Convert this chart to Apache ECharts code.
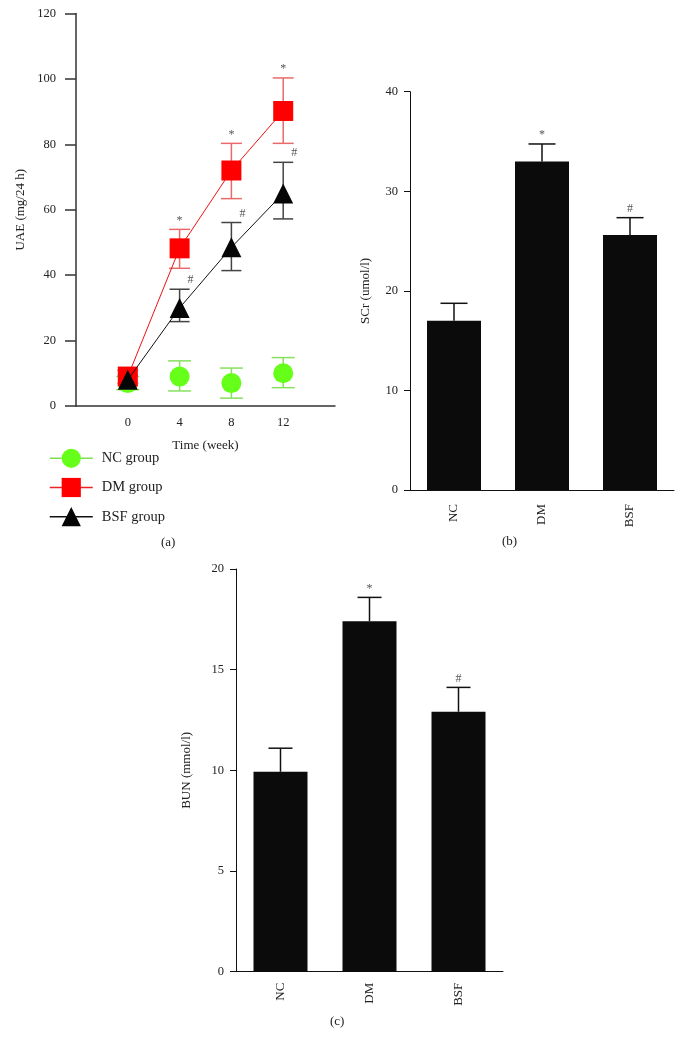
<!DOCTYPE html>
<html><head><meta charset="utf-8">
<script src="https://cdn.jsdelivr.net/npm/echarts@6/dist/echarts.min.js"></script>
<style>html,body{margin:0;padding:0;background:#fff}#c{width:683px;height:1050px}</style>
</head><body><div id="c"></div>
<script>
// ---- Panel (a): UAE over time ----
const weeks = [0, 4, 8, 12];
const ncMean = [7, 9, 7, 10];
const ncLow = [5, 4.6, 2.4, 5.6];
const ncHigh = [9, 13.8, 11.6, 14.8];
const dmMean = [9, 48.2, 72, 90.2];
const dmLow = [7, 42.1, 63.4, 80.3];
const dmHigh = [11, 54, 80.3, 100.3];
const bsfMean = [8, 30, 48.5, 65];
const bsfLow = [6.5, 25.8, 41.4, 57.2];
const bsfHigh = [9.5, 35.7, 56.1, 74.5];
const dmSig = ['', '*', '*', '*'];
const bsfSig = ['', '#', '#', '#'];
const weekLabels = ['0', '4', '8', '12'];
// ---- Panels (b),(c) ----
const groups = ['NC', 'DM', 'BSF'];
const scrMean = [17, 33, 25.6];
const scrErr = [1.75, 1.75, 1.75];
const bunMean = [9.93, 17.41, 12.91];
const bunErr = [1.17, 1.18, 1.21];
const barSig = ['', '*', '#'];

const FONT = '"Liberation Serif", "DejaVu Serif", serif';
const AX = '#333';
const TXT = '#222';

function lineErr(color, capW, sig, sigDx) {
  return function (params, api) {
    const i = params.dataIndex;
    const x = api.value(0);
    const t = api.coord([x, api.value(2)]);
    const b = api.coord([x, api.value(1)]);
    const ls = { stroke: color, lineWidth: 1.5 };
    const ch = [
      { type: 'line', shape: { x1: t[0], y1: t[1], x2: b[0], y2: b[1] }, style: ls },
      { type: 'line', shape: { x1: t[0] - capW / 2, y1: t[1], x2: t[0] + capW / 2, y2: t[1] }, style: ls },
      { type: 'line', shape: { x1: b[0] - capW / 2, y1: b[1], x2: b[0] + capW / 2, y2: b[1] }, style: ls }
    ];
    if (sig && sig[i]) {
      ch.push({ type: 'text', style: { text: sig[i], x: t[0] + sigDx, y: t[1] - 3, align: 'center', verticalAlign: 'bottom', font: '12px ' + FONT, fill: '#555' } });
    }
    return { type: 'group', children: ch };
  };
}
function barErr(capW) {
  return function (params, api) {
    const i = params.dataIndex;
    const x = api.value(0);
    const t = api.coord([x, api.value(2)]);
    const b = api.coord([x, api.value(1)]);
    const ls = { stroke: '#111', lineWidth: 1.5 };
    const ch = [
      { type: 'line', shape: { x1: t[0], y1: t[1], x2: b[0], y2: b[1] }, style: ls },
      { type: 'line', shape: { x1: t[0] - capW / 2, y1: t[1], x2: t[0] + capW / 2, y2: t[1] }, style: ls }
    ];
    if (barSig[i]) {
      ch.push({ type: 'text', style: { text: barSig[i], x: t[0], y: t[1] - 3, align: 'center', verticalAlign: 'bottom', font: '12px ' + FONT, fill: '#555' } });
    }
    return { type: 'group', children: ch };
  };
}

const tickLabel = { fontFamily: FONT, fontSize: 12.5, color: TXT };
const nameStyle = { fontFamily: FONT, fontSize: 13, color: TXT };

const option = {
  animation: false,
  backgroundColor: '#fff',
  grid: [
    { left: 76, top: 13.5, width: 259, height: 392.5 },
    { left: 410, top: 91.7, width: 264, height: 398.3 },
    { left: 236, top: 569, width: 267, height: 402.7 }
  ],
  legend: {
    orient: 'vertical', left: 49, top: 448.7, padding: 0, itemWidth: 43, itemHeight: 24, itemGap: 10,
    textStyle: { fontFamily: FONT, fontSize: 14.5, color: TXT, padding: [0, 0, 0, 4] },
    data: [
      { name: 'NC group', lineStyle: { color: '#7fe055', width: 1.5, opacity: 1 } },
      { name: 'DM group', lineStyle: { color: '#ee2222', width: 1.5 } },
      { name: 'BSF group', lineStyle: { color: '#111', width: 1.5 } }
    ]
  },
  xAxis: [
    {
      type: 'value', gridIndex: 0, min: -4, max: 16, interval: 4,
      axisLine: { onZero: false, lineStyle: { color: AX, width: 1.5 } }, axisTick: { show: false }, splitLine: { show: false },
      axisLabel: Object.assign({ margin: 10, formatter: v => weekLabels.indexOf(String(v)) >= 0 ? String(v) : '' }, tickLabel),
      name: 'Time (week)', nameLocation: 'middle', nameGap: 33, nameTextStyle: nameStyle
    },
    {
      type: 'category', gridIndex: 1, data: groups,
      axisLine: { lineStyle: { color: '#111', width: 1 } },
      axisTick: { alignWithLabel: true, length: 8, lineStyle: { color: '#111' } },
      axisLabel: Object.assign({ rotate: 90, margin: 14 }, tickLabel, { fontSize: 13 })
    },
    {
      type: 'category', gridIndex: 2, data: groups,
      axisLine: { lineStyle: { color: '#111', width: 1 } },
      axisTick: { alignWithLabel: true, length: 8, lineStyle: { color: '#111' } },
      axisLabel: Object.assign({ rotate: 90, margin: 11 }, tickLabel, { fontSize: 13 })
    }
  ],
  yAxis: [
    {
      type: 'value', gridIndex: 0, min: 0, max: 120, interval: 20,
      axisLine: { show: true, onZero: false, lineStyle: { color: AX, width: 1.5 } },
      axisTick: { show: true, length: 11, lineStyle: { color: AX, width: 1.5 } },
      splitLine: { show: false },
      axisLabel: Object.assign({ margin: 20 }, tickLabel),
      name: 'UAE (mg/24 h)', nameLocation: 'middle', nameGap: 49, nameRotate: 90, nameTextStyle: nameStyle
    },
    {
      type: 'value', gridIndex: 1, min: 0, max: 40, interval: 10,
      axisLine: { show: true, onZero: false, lineStyle: { color: '#111', width: 1 } },
      axisTick: { show: true, length: 6, lineStyle: { color: '#111' } },
      splitLine: { show: false },
      axisLabel: Object.assign({ margin: 12 }, tickLabel),
      name: 'SCr (umol/l)', nameLocation: 'middle', nameGap: 38, nameRotate: 90, nameTextStyle: nameStyle
    },
    {
      type: 'value', gridIndex: 2, min: 0, max: 20, interval: 5,
      axisLine: { show: true, onZero: false, lineStyle: { color: '#111', width: 1 } },
      axisTick: { show: true, length: 6, lineStyle: { color: '#111' } },
      splitLine: { show: false },
      axisLabel: Object.assign({ margin: 12 }, tickLabel),
      name: 'BUN (mmol/l)', nameLocation: 'middle', nameGap: 43, nameRotate: 90, nameTextStyle: nameStyle
    }
  ],
  series: [
    { name: 'NC err', type: 'custom', xAxisIndex: 0, yAxisIndex: 0, z: 1,
      data: weeks.map((w, i) => [w, ncLow[i], ncHigh[i]]), encode: { x: 0, y: [1, 2] },
      renderItem: lineErr('#86e05e', 23, null, 0) },
    { name: 'DM err', type: 'custom', xAxisIndex: 0, yAxisIndex: 0, z: 1,
      data: weeks.map((w, i) => [w, dmLow[i], dmHigh[i]]), encode: { x: 0, y: [1, 2] },
      renderItem: lineErr('#e86a6a', 21, dmSig, 0) },
    { name: 'BSF err', type: 'custom', xAxisIndex: 0, yAxisIndex: 0, z: 1,
      data: weeks.map((w, i) => [w, bsfLow[i], bsfHigh[i]]), encode: { x: 0, y: [1, 2] },
      renderItem: lineErr('#444', 20, bsfSig, 11) },
    { name: 'NC group', type: 'line', xAxisIndex: 0, yAxisIndex: 0, z: 3,
      data: weeks.map((w, i) => [w, ncMean[i]]),
      symbol: 'circle', symbolSize: 20, itemStyle: { color: '#66ff1a' },
      lineStyle: { color: '#7fe055', width: 1, opacity: 0 } },
    { name: 'DM group', type: 'line', xAxisIndex: 0, yAxisIndex: 0, z: 4,
      data: weeks.map((w, i) => [w, dmMean[i]]),
      symbol: 'rect', symbolSize: 20, itemStyle: { color: '#ff0000' },
      lineStyle: { color: '#ee1111', width: 1 } },
    { name: 'BSF group', type: 'line', xAxisIndex: 0, yAxisIndex: 0, z: 5,
      data: weeks.map((w, i) => [w, bsfMean[i]]),
      symbol: 'triangle', symbolSize: 20, itemStyle: { color: '#050505' },
      lineStyle: { color: '#111', width: 1 } },
    { name: 'SCr', type: 'bar', xAxisIndex: 1, yAxisIndex: 1, data: scrMean, barWidth: 54,
      itemStyle: { color: '#0b0b0b' } },
    { name: 'SCr err', type: 'custom', xAxisIndex: 1, yAxisIndex: 1, z: 3,
      data: groups.map((g, i) => [i, scrMean[i], scrMean[i] + scrErr[i]]), encode: { x: 0, y: [1, 2] },
      renderItem: barErr(27) },
    { name: 'BUN', type: 'bar', xAxisIndex: 2, yAxisIndex: 2, data: bunMean, barWidth: 54,
      itemStyle: { color: '#0b0b0b' } },
    { name: 'BUN err', type: 'custom', xAxisIndex: 2, yAxisIndex: 2, z: 3,
      data: groups.map((g, i) => [i, bunMean[i], bunMean[i] + bunErr[i]]), encode: { x: 0, y: [1, 2] },
      renderItem: barErr(24) }
  ],
  graphic: [
    { type: 'text', left: 161, top: 536, style: { text: '(a)', font: '13px ' + FONT, fill: TXT } },
    { type: 'text', left: 502, top: 535, style: { text: '(b)', font: '13px ' + FONT, fill: TXT } },
    { type: 'text', left: 330, top: 1015, style: { text: '(c)', font: '13px ' + FONT, fill: TXT } }
  ]
};
const chart = echarts.init(document.getElementById('c'), null, { renderer: 'canvas' });
chart.setOption(option);
</script>
</body></html>
